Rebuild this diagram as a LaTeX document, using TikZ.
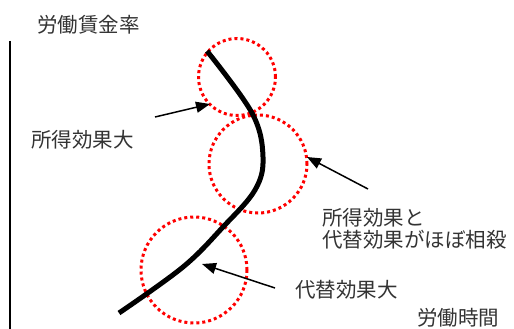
\documentclass[tikz,border=0pt]{standalone}
\usepackage{fontspec}
\newfontfamily\cjk{Noto Sans CJK JP}
\usetikzlibrary{arrows.meta}
\begin{document}
\begin{tikzpicture}[x=1pt,y=-1pt,
  lbl/.style={anchor=west,inner sep=0pt,font=\cjk\fontsize{20.5}{22}\selectfont,text=black!80},
  ring/.style={circle,draw=red,line width=3pt,dash pattern=on 3pt off 3pt,inner sep=0pt},
  pointer/.style={line width=1.5pt,-{Triangle[length=14pt,width=11pt]}}]
\useasboundingbox (0,0) rectangle (514,329);
% axis
\coordinate (axtop) at (10,41);
\coordinate (axbot) at (10,329);
\draw[line width=1.5pt] (axtop) -- (axbot);
% circles
\node[ring,minimum size=77pt] (c1) at (237,77) {};
\node[ring,minimum size=98pt] (c2) at (258,164) {};
\node[ring,minimum size=106pt] (c3) at (194,270) {};
% curve
\draw[line width=5pt] plot[smooth,tension=0.6] coordinates {(207,51) (252,113) (263,157) (255,190) (223,227) (183,267) (119,313)};
% labels
\node[lbl] (ylab) at (37,25) {労働賃金率};
\node[lbl] (l1) at (31,140) {所得効果大};
\node[lbl,align=left] (l2) at (322,229) {所得効果と\\代替効果がほぼ相殺};
\node[lbl] (l3) at (295,290) {代替効果大};
\node[lbl] (xlab) at (417,318) {労働時間};
% arrows
\coordinate (a1s) at (155,117);
\coordinate (a1e) at (210,104);
\coordinate (a2s) at (368,189);
\coordinate (a2e) at (307,157);
\coordinate (a3s) at (275,288);
\coordinate (a3e) at (202,264);
\draw[pointer] (a1s) -- (a1e);
\draw[pointer] (a2s) -- (a2e);
\draw[pointer] (a3s) -- (a3e);
\end{tikzpicture}
\end{document}
